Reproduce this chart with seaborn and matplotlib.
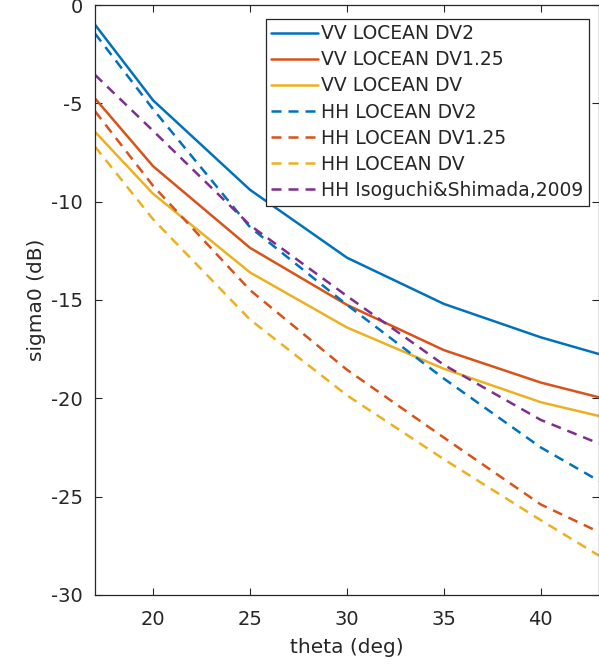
import pandas as pd
import matplotlib.pyplot as plt
import seaborn as sns

# incidence angles (deg) and sigma0 values (dB)
theta = [17, 20, 25, 30, 35, 40, 43]

vv_dv2 = [-1.0, -4.85, -9.4, -12.85, -15.2, -16.9, -17.75]
vv_dv125 = [-4.75, -8.2, -12.35, -15.25, -17.55, -19.2, -19.95]
vv_dv = [-6.45, -9.6, -13.6, -16.4, -18.5, -20.2, -20.9]
hh_dv2 = [-1.45, -5.3, -11.3, -15.25, -19.0, -22.5, -24.2]
hh_dv125 = [-5.4, -9.2, -14.5, -18.55, -22.0, -25.4, -26.8]
hh_dv = [-7.2, -10.9, -16.0, -19.85, -23.1, -26.2, -28.0]
hh_iso = [-3.55, -6.4, -11.2, -14.8, -18.3, -21.1, -22.3]

labels = ['VV LOCEAN DV2', 'VV LOCEAN DV1.25', 'VV LOCEAN DV',
          'HH LOCEAN DV2', 'HH LOCEAN DV1.25', 'HH LOCEAN DV',
          'HH Isoguchi&Shimada,2009']
series = [vv_dv2, vv_dv125, vv_dv, hh_dv2, hh_dv125, hh_dv, hh_iso]
colors = ['#0072BD', '#D95319', '#EDB120', '#0072BD', '#D95319', '#EDB120', '#7E2F8E']
dashed = [False, False, False, True, True, True, True]

df = pd.concat([pd.DataFrame({'theta': theta, 'sigma0': s, 'model': lab})
                for lab, s in zip(labels, series)], ignore_index=True)

sns.set_style('ticks')
plt.rcParams['font.family'] = ['DejaVu Sans']
plt.rcParams['axes.unicode_minus'] = False

fig = plt.figure(figsize=(5.99, 6.70), dpi=100)
ax = fig.add_axes([0.1586, 0.112, 0.8414, 0.8805])

for lab, col, dsh in zip(labels, colors, dashed):
    sub = df[df['model'] == lab]
    sns.lineplot(data=sub, x='theta', y='sigma0', ax=ax, color=col, linewidth=1.8,
                 label=lab, linestyle=(0, (4, 2.8)) if dsh else '-')

ax.set_xlim(17, 43)
ax.set_ylim(-30, 0)
ax.set_xticks([20, 25, 30, 35, 40])
ax.set_yticks([-30, -25, -20, -15, -10, -5, 0])
ax.set_xlabel('theta (deg)', fontsize=14.5, color='#262626', labelpad=6)
ax.set_ylabel('sigma0 (dB)', fontsize=14.5, color='#262626', labelpad=3)
ax.tick_params(direction='in', length=5, width=0.8, colors='#262626',
               labelsize=14, top=True, right=True)
ax.tick_params(axis='x', pad=11)
ax.tick_params(axis='y', pad=9)
for sp in ax.spines.values():
    sp.set_color('#262626')
    sp.set_linewidth(0.9)

leg = ax.legend(loc='upper right', bbox_to_anchor=(0.98, 0.977), borderaxespad=0,
                fontsize=13.5, frameon=True, fancybox=False, framealpha=1,
                handlelength=2.5, handletextpad=0.15, labelspacing=0.38,
                borderpad=0.3)
leg.get_frame().set_edgecolor('#262626')
leg.get_frame().set_linewidth(0.9)

fig.savefig('out.png', dpi=100)
